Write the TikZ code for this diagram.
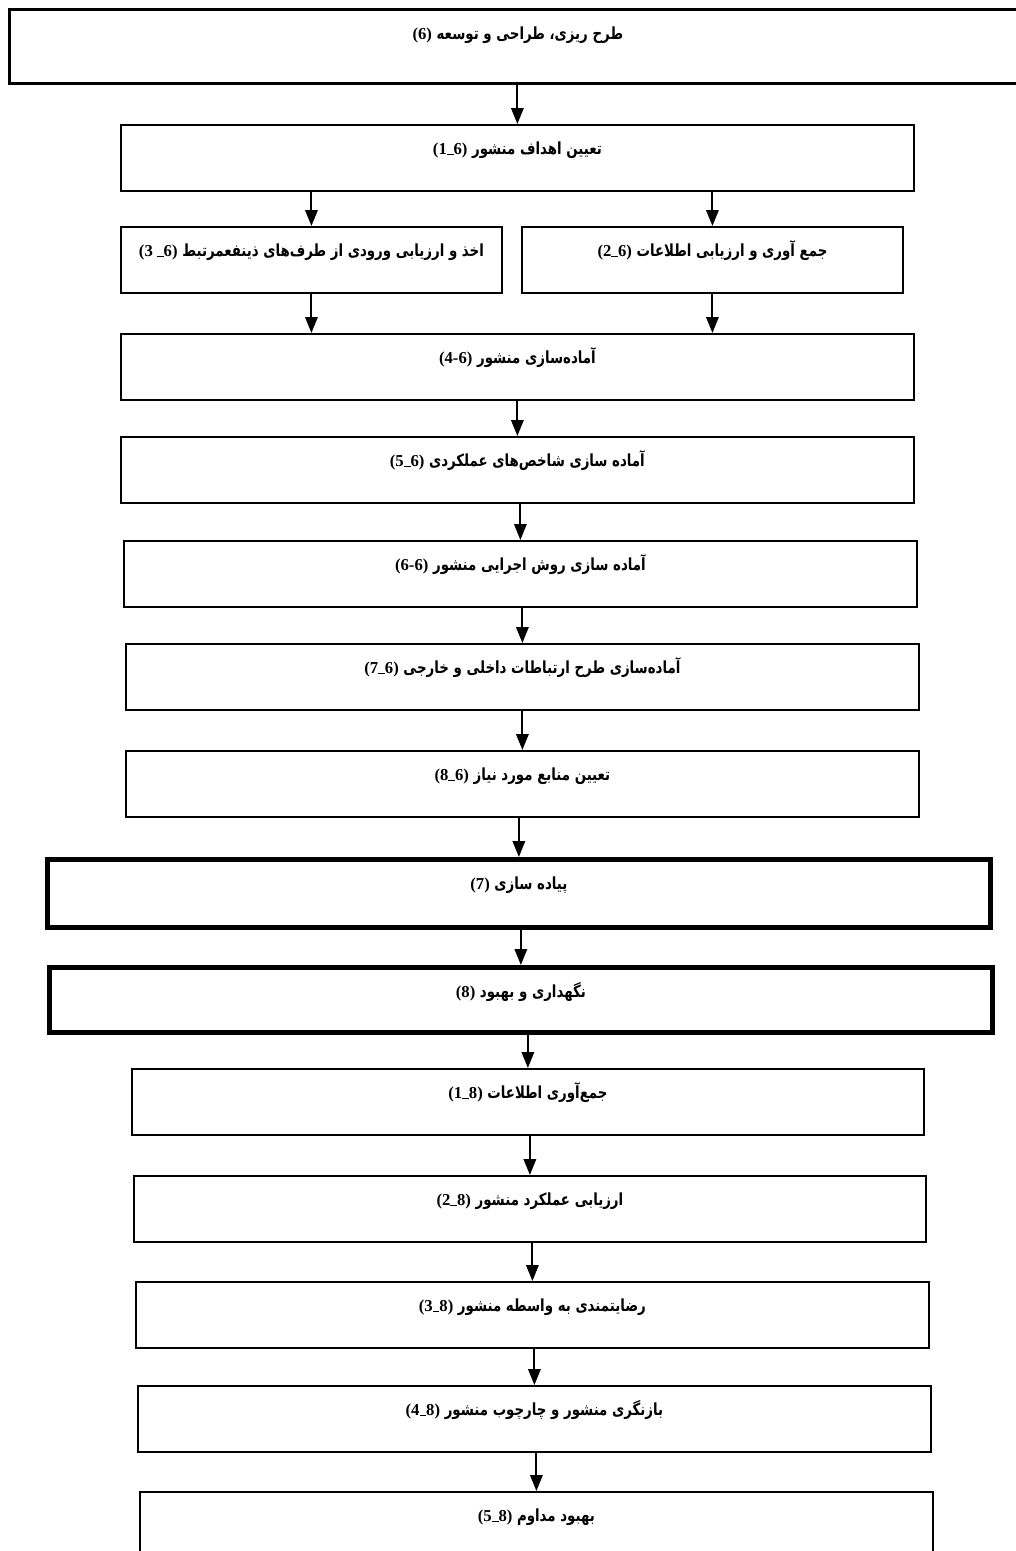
\documentclass[tikz,border=0pt]{standalone}
\usepackage{fontspec}
\newfontfamily\arabicfont[Script=Arabic, FakeStretch=0.8]{DejaVu Sans}
\newfontfamily\numfont{Liberation Serif}
\TeXXeTstate=1
\usetikzlibrary{arrows.meta}
\newcommand{\fa}[2]{\beginR #1 \beginL\numfont\bfseries(#2)\endL\endR}
\newcommand{\sep}{\rule{0.4em}{0.07em}}
\tikzset{
  stage/.style={draw, line width=1.1pt, anchor=north west, inner sep=0pt, text height=0.6cm, text depth=0.72cm, font=\arabicfont\bfseries\fontsize{9.5}{11}\selectfont},
  phase/.style={stage, line width=2.8pt},
  flow/.style={-{Triangle[width=7pt,length=9pt]}, line width=1.1pt}
}
\begin{document}
\begin{tikzpicture}[x=0.02cm,y=-0.02cm]
\useasboundingbox (0,0) rectangle (1016,1551);
% planning
\node[stage, minimum width=20.34cm, text depth=0.88cm, line width=1.6pt] (b0) at (8,8) {\fa{طرح ریزی، طراحی و توسعه}{6}};
\node[stage, minimum width=15.86cm] (b1) at (120,124) {\fa{تعیین اهداف منشور}{1\sep6}};
\node[stage, minimum width=7.62cm] (b2a) at (120,226) {\fa{اخذ و ارزیابی ورودی از طرف‌های ذینفعمرتبط}{3 \sep6}};
\node[stage, minimum width=7.62cm] (b2b) at (521,226) {\fa{جمع آوری و ارزیابی اطلاعات}{2\sep6}};
\node[stage, minimum width=15.86cm] (b3) at (120,333) {\fa{آماده‌سازی منشور}{4-6}};
\node[stage, minimum width=15.86cm] (b4) at (120,436) {\fa{آماده سازی شاخص‌های عملکردی}{5\sep6}};
\node[stage, minimum width=15.86cm] (b5) at (123,540) {\fa{آماده سازی روش اجرایی منشور}{6-6}};
\node[stage, minimum width=15.86cm] (b6) at (125,643) {\fa{آماده‌سازی طرح ارتباطات داخلی و خارجی}{7\sep6}};
\node[stage, minimum width=15.86cm] (b7) at (125,750) {\fa{تعیین منابع مورد نیاز}{8\sep6}};
% implementation and maintenance
\node[phase, minimum width=18.86cm, text depth=0.76cm] (b8) at (45,857) {\fa{پیاده سازی}{7}};
\node[phase, minimum width=18.86cm, text depth=0.70cm] (b9) at (47,965) {\fa{نگهداری و بهبود}{8}};
\node[stage, minimum width=15.84cm] (b10) at (131,1068) {\fa{جمع‌آوری اطلاعات}{1\sep8}};
\node[stage, minimum width=15.84cm] (b11) at (133,1175) {\fa{ارزیابی عملکرد منشور}{2\sep8}};
\node[stage, minimum width=15.86cm] (b12) at (135,1281) {\fa{رضایتمندی به واسطه منشور}{3\sep8}};
\node[stage, minimum width=15.86cm] (b13) at (137,1385) {\fa{بازنگری منشور و چارچوب منشور}{4\sep8}};
\node[stage, minimum width=15.86cm, text depth=0.88cm] (b14) at (139,1491) {\fa{بهبود مداوم}{5\sep8}};
% arrows
\draw[flow] (b0.south -| b1.north) -- (b1.north);
\foreach \n in {b2a,b2b}{
  \draw[flow] (b1.south -| \n.north) -- (\n.north);
  \draw[flow] (\n.south) -- (\n.south |- b3.north);
}
\foreach \a/\b in {b3/b4,b4/b5,b5/b6,b6/b7,b7/b8,b8/b9,b9/b10,b10/b11,b11/b12,b12/b13,b13/b14}
  \draw[flow] (\a.south -| \b.north) -- (\b.north);
\end{tikzpicture}
\end{document}
